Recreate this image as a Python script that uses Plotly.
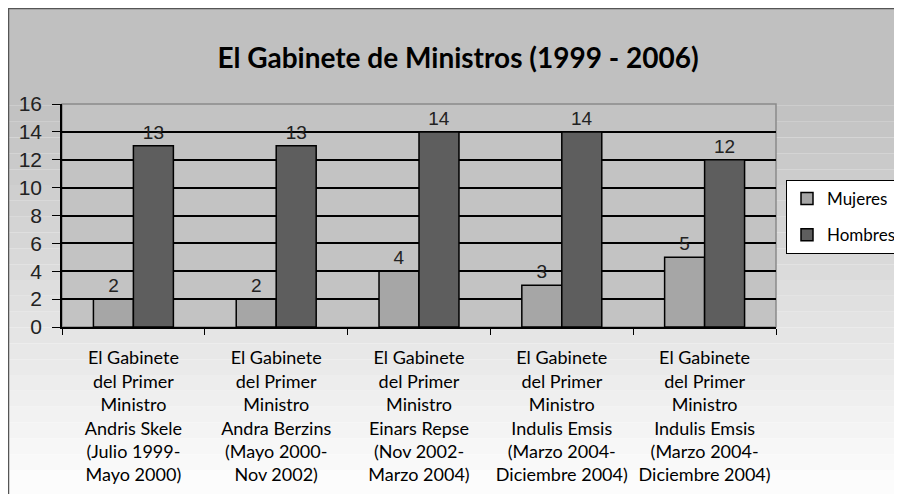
import plotly.graph_objects as go

categories = [
    "El Gabinete<br>del Primer<br>Ministro<br>Andris Skele<br>(Julio 1999-<br>Mayo 2000)",
    "El Gabinete<br>del Primer<br>Ministro<br>Andra Berzins<br>(Mayo 2000-<br>Nov 2002)",
    "El Gabinete<br>del Primer<br>Ministro<br>Einars Repse<br>(Nov 2002-<br>Marzo 2004)",
    "El Gabinete<br>del Primer<br>Ministro<br>Indulis Emsis<br>(Marzo 2004-<br>Diciembre 2004)",
    "El Gabinete<br>del Primer<br>Ministro<br>Indulis Emsis<br>(Marzo 2004-<br>Diciembre 2004)",
]
cat_ids = ["c1", "c2", "c3", "c4", "c5"]
mujeres = [2, 2, 4, 3, 5]
hombres = [13, 13, 14, 14, 12]

# page has an 8px body margin, so work in page pixels and shift
OFF = 8
W, H = 902 - OFF, 494 - OFF
PX0, PX1, PY_TOP, PY_BOT = 62, 776, 104, 327


def px_x(p):
    return (p - PX0) / (PX1 - PX0)


def px_y(p):
    return (PY_BOT - p) / (PY_BOT - PY_TOP)


fig = go.Figure()
fig.add_trace(go.Bar(
    x=cat_ids, y=mujeres, name="Mujeres", legendgroup="m",
    marker=dict(color="#a6a6a6", line=dict(color="#000000", width=1.5)),
    text=mujeres, textposition="outside", cliponaxis=False,
    textfont=dict(family="Liberation Sans", size=19, color="#222222"),
))
fig.add_trace(go.Bar(
    x=cat_ids, y=hombres, name="Hombres", legendgroup="h",
    marker=dict(color="#5e5e5e", line=dict(color="#000000", width=1.5)),
    text=hombres, textposition="outside", cliponaxis=False,
    textfont=dict(family="Liberation Sans", size=19, color="#222222"),
))

# background gradient bands (page)
shapes = []
n = 24
top, bot = 90, 470
for i in range(n + 1):
    y0 = top + (bot - top) * i / n if i > 0 else 0
    y1 = top + (bot - top) * (i + 1) / n if i < n else 500
    g = int(192 + (252 - 192) * i / n)
    shapes.append(dict(
        type="rect", xref="paper", yref="paper", layer="below",
        x0=px_x(0), x1=px_x(910), y0=px_y(y1), y1=px_y(y0),
        fillcolor=f"rgb({g},{g},{g})", line=dict(width=0),
    ))
# outer border
shapes.append(dict(
    type="rect", xref="paper", yref="paper", layer="above",
    x0=px_x(OFF + 0.5), x1=px_x(920), y0=px_y(520), y1=px_y(OFF + 0.5),
    line=dict(color="#555555", width=1.5), fillcolor="rgba(0,0,0,0)",
))
# plot area frame
shapes.append(dict(
    type="rect", xref="paper", yref="paper", layer="below",
    x0=0, x1=1, y0=0, y1=1,
    line=dict(color="#8a8a8a", width=1.5), fillcolor="#c3c3c3",
))

fig.update_layout(
    width=W, height=H,
    margin=dict(l=PX0 - OFF, r=902 - PX1, t=PY_TOP - OFF, b=494 - PY_BOT),
    paper_bgcolor="#ffffff",
    plot_bgcolor="rgba(0,0,0,0)",
    shapes=shapes,
    barmode="group", bargap=0.44, bargroupgap=0,
    title=dict(
        text="<b>El Gabinete de Ministros (1999 - 2006)</b>",
        x=(458 - OFF) / W, xanchor="center", y=1 - (58 - OFF) / H, yanchor="middle",
        font=dict(family="Lato", size=28, color="#000000"),
    ),
    legend=dict(
        xref="container", yref="container",
        x=(786 - OFF) / W, y=1 - (180 - OFF) / H, xanchor="left", yanchor="top",
        bgcolor="#ffffff", bordercolor="#000000", borderwidth=1,
        font=dict(family="Lato", size=17, color="#000000"),
        traceorder="grouped", tracegroupgap=11, itemwidth=30,
    ),
    showlegend=True,
    font=dict(family="Liberation Sans", color="#000000"),
)
fig.update_xaxes(
    tickvals=cat_ids, ticktext=categories, tickson="boundaries",
    ticks="outside", ticklen=6, tickcolor="#000000", automargin=False,
    showline=True, linecolor="#000000", linewidth=1.5,
    ticklabelstandoff=14,
    tickfont=dict(family="Lato", size=18, color="#000000"),
)
fig.update_yaxes(
    range=[0, 16], dtick=2, ticks="outside", ticklen=8, tickcolor="#000000",
    showline=True, linecolor="#000000", linewidth=1.5, automargin=False,
    showgrid=True, gridcolor="#000000", gridwidth=1.5, zeroline=False,
    ticklabelstandoff=6,
    tickfont=dict(family="Liberation Sans", size=21, color="#222222"),
)

fig.write_html("out.html")
